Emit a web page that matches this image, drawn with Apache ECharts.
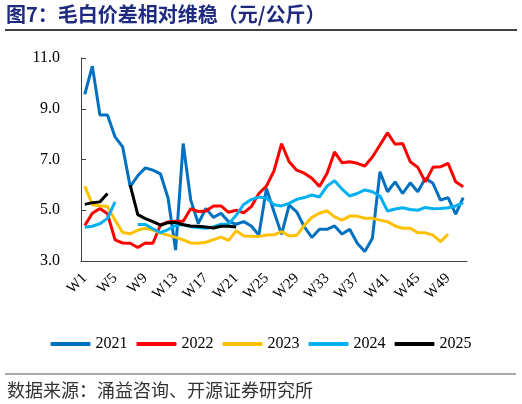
<!DOCTYPE html>
<html>
<head>
<meta charset="utf-8">
<script src="https://cdn.jsdelivr.net/npm/echarts@6/dist/echarts.min.js"></script>
<style>
html,body{margin:0;padding:0;background:#fff;}
#c{width:522px;height:404px;}
</style>
</head>
<body>
<div id="c"></div>
<script>
const weeks = [];
for (let i = 1; i <= 51; i++) weeks.push('W' + i);
const seriesNames = ['2021', '2022', '2023', '2024', '2025'];
const y2021 = [9.57,10.68,8.75,8.75,7.89,7.5,5.93,6.36,6.67,6.58,6.43,5.48,3.43,7.63,5.4,4.48,5.07,4.72,4.88,4.55,4.45,4.55,4.38,4.02,5.86,4.94,4.05,5.2,4.94,4.35,3.93,4.25,4.25,4.38,4.06,4.25,3.7,3.37,3.9,6.52,5.73,6.12,5.66,6.08,5.73,6.26,6.06,5.4,5.5,4.85,5.5];
const y2022 = [4.4,4.88,5.07,4.86,3.83,3.71,3.7,3.53,3.71,3.7,4.42,4.54,4.57,4.57,5.06,4.95,4.97,5.17,5.17,4.92,5.0,4.9,5.14,5.66,5.95,6.55,7.62,6.91,6.58,6.46,6.26,5.94,6.45,7.3,6.87,6.91,6.85,6.74,7.1,7.57,8.05,7.6,7.63,6.91,6.69,6.12,6.69,6.71,6.85,6.12,5.93];
const y2023 = [5.95,5.22,5.18,5.15,4.61,4.12,4.07,4.22,4.29,4.22,4.1,4.02,3.93,3.83,3.71,3.7,3.74,3.84,3.94,3.81,4.19,3.99,3.98,3.97,4.02,4.03,4.16,3.99,4.01,4.4,4.72,4.88,4.98,4.74,4.61,4.77,4.77,4.68,4.68,4.61,4.55,4.38,4.29,4.29,4.11,4.11,4.02,3.76,4.06];
const y2024 = [4.33,4.37,4.47,4.68,5.33,null,null,4.44,4.44,4.27,4.12,4.24,4.4,4.44,4.35,4.32,4.29,4.34,4.45,4.46,4.8,5.23,5.42,5.52,5.48,5.22,5.17,5.27,5.43,5.5,5.6,5.52,5.95,6.16,5.83,5.56,5.66,5.8,5.73,5.56,4.97,5.05,5.1,5.03,5.0,5.11,5.06,5.07,5.1,5.17,5.3];
const y2025 = [5.23,5.3,5.33,5.66,null,null,5.99,4.83,4.67,4.55,4.41,4.51,4.52,4.43,4.38,4.37,4.34,4.3,4.37,4.37,4.34];
const colors = ['#0070C0', '#FF0000', '#FFC000', '#00B0F0', '#000000'];
const allData = [y2021, y2022, y2023, y2024, y2025];

const chart = echarts.init(document.getElementById('c'), null, {renderer: 'canvas'});
const serif = '"Liberation Serif","Times New Roman",serif';
const cjk = '"Noto Sans CJK SC","Noto Sans",sans-serif';

chart.setOption({
  animation: false,
  backgroundColor: '#fff',
  color: colors,
  grid: {left: 81, right: 55, top: 58, bottom: 143, containLabel: false},
  legend: {
    data: seriesNames,
    left: 'center',
    top: 331,
    icon: 'roundRect',
    itemWidth: 40,
    itemHeight: 4,
    itemGap: 9,
    textStyle: {fontFamily: serif, fontSize: 16, color: '#000'}
  },
  xAxis: {
    type: 'category',
    data: weeks,
    boundaryGap: true,
    axisLine: {lineStyle: {color: '#404040', width: 1}},
    axisTick: {inside: true, length: 5, interval: 3, lineStyle: {color: '#404040'}},
    axisLabel: {interval: 3, rotate: 45, margin: 15, fontFamily: serif, fontSize: 15, color: '#000'},
    splitLine: {show: false}
  },
  yAxis: {
    type: 'value',
    min: 3,
    max: 11,
    interval: 2,
    axisLine: {show: true, lineStyle: {color: '#404040', width: 1}},
    axisTick: {show: true, inside: true, length: 5, lineStyle: {color: '#404040'}},
    axisLabel: {margin: 21, fontFamily: serif, fontSize: 16, color: '#000', formatter: v => v.toFixed(1)},
    splitLine: {show: false}
  },
  series: seriesNames.map((n, k) => ({
    name: n,
    type: 'line',
    data: allData[k],
    symbol: 'none',
    connectNulls: false,
    lineStyle: {width: 3, color: colors[k]},
    itemStyle: {color: colors[k]},
    z: 2 + k
  })),
  graphic: [
    {type: 'text', left: 6, top: 4, style: {text: '图7：毛白价差相对维稳（元/公斤）', font: 'bold 20px ' + cjk, fill: '#1F2A7F'}},
    {type: 'line', shape: {x1: 5, y1: 30, x2: 517, y2: 30}, style: {stroke: '#000', lineWidth: 1.5}},
    {type: 'line', shape: {x1: 5, y1: 374, x2: 516, y2: 374}, style: {stroke: '#555', lineWidth: 1}},
    {type: 'text', left: 7, top: 381, style: {text: '数据来源：涌益咨询、开源证券研究所', font: '18px ' + cjk, fill: '#333'}}
  ]
});
</script>
</body>
</html>
